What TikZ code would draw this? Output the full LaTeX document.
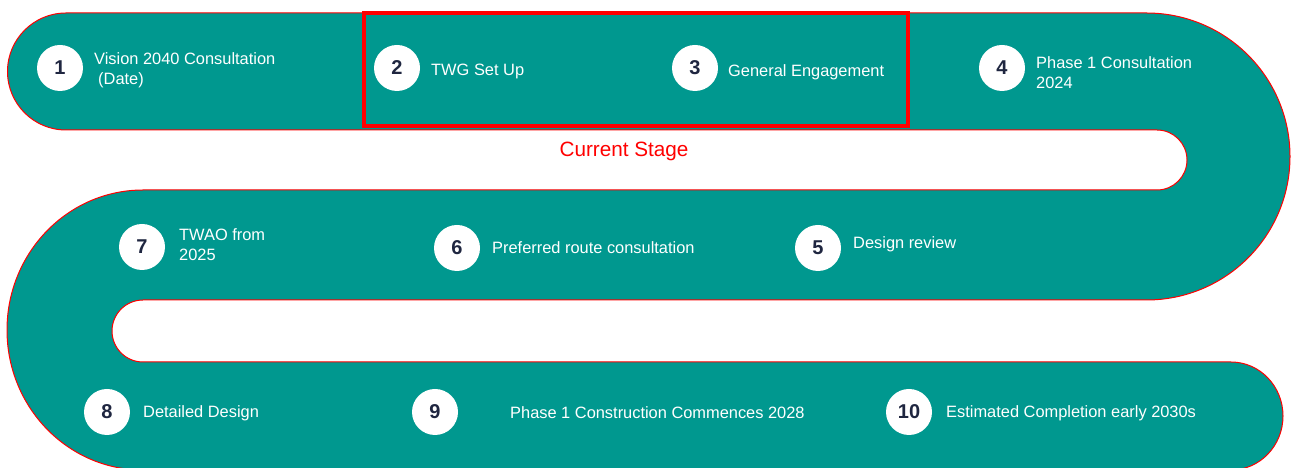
\documentclass[tikz,border=0pt]{standalone}
\usepackage{fontspec}
\setmainfont{Liberation Sans}
\definecolor{roadteal}{RGB}{0,152,143}
\definecolor{numnavy}{RGB}{31,38,64}
\tikzset{
    road/.style={fill=roadteal,draw=red,line width=1pt},
    stagecircle/.style={circle,fill=white,minimum size=46pt,inner sep=0pt,text=numnavy,
        font=\fontsize{20}{24}\selectfont\bfseries},
    stagetext/.style={anchor=west,inner sep=0pt,align=left,text=white,
        font=\fontsize{16.4}{20}\selectfont},
    currentbox/.style={draw=red,line width=4pt}
}

\begin{document}
\begin{tikzpicture}[x=1pt,y=1pt]
                \useasboundingbox (0,0) rectangle (1296,468);
                % the winding road, one closed outline
                \draw[road] (66,455) -- (1146.5,455) arc[start angle=90,end angle=-90,radius=143.5]
                    -- (143,168) arc[start angle=90,end angle=270,radius=31]
                    -- (1231,106) arc[start angle=90,end angle=-90,x radius=52,y radius=54]
                    -- (143,-2) arc[start angle=270,end angle=90,x radius=136,y radius=140]
                    -- (1157,278) arc[start angle=-90,end angle=90,radius=30]
                    -- (66,338) arc[start angle=270,end angle=90,radius=58.5] -- cycle ;
                \draw[currentbox] (364,455) rectangle (908,342) ;
                \node[text=red,font=\fontsize{20.7}{24}\selectfont] (stage) at (624,317) {Current Stage};
                % numbered stops
                \foreach \n/\x/\y in {1/60/400,2/397/400,3/695/400,4/1002/400,5/818/220,
                    6/457/220,7/142/221,8/107/56,9/435/56,10/909/56}
                    \node[stagecircle] (c\n) at (\x,\y) {\n};
                \node[stagetext] (t1) at (94,398) {Vision 2040 Consultation\\\hspace*{4pt}(Date)};
                \node[stagetext] (t2) at (431,397) {TWG Set Up};
                \node[stagetext] (t3) at (728,396) {General Engagement};
                \node[stagetext] (t4) at (1036,395) {Phase 1 Consultation\\2024};
                \node[stagetext] (t5) at (853,224) {Design review};
                \node[stagetext] (t6) at (492,220) {Preferred route consultation};
                \node[stagetext] (t7) at (179,223) {TWAO from\\2025};
                \node[stagetext] (t8) at (143,55) {Detailed Design};
                \node[stagetext] (t9) at (510,55) {Phase 1 Construction Commences 2028};
                \node[stagetext] (t10) at (946,55) {Estimated Completion early 2030s};
            \end{tikzpicture}
\end{document}
